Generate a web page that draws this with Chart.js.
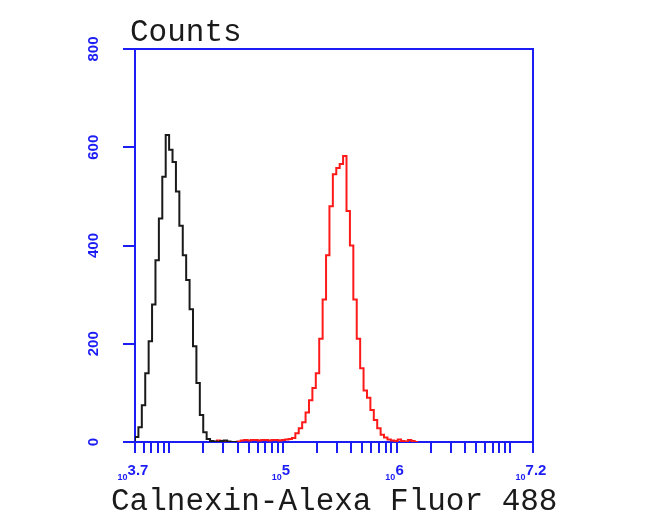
<!DOCTYPE html>
<html>
<head>
<meta charset="utf-8">
<script src="https://cdn.jsdelivr.net/npm/chart.js@4.4.1/dist/chart.umd.min.js"></script>
<style>
  body { margin: 0; background: #fff; }
  canvas { display: block; }
</style>
</head>
<body>
<canvas id="histChart" width="650" height="532"></canvas>
<script>
// histogram bins: log10 of the left edge of bin i = binStartExp + i * binWidthExp
const binStartExp = 3.7;
const binWidthExp = 0.03;

// black (control) counts, starting at bin 0
const controlStartBin = 0;
const controlCounts = [2, 10, 30, 75, 140, 205, 280, 370, 455, 540, 625, 595, 570, 510, 440, 380, 330, 270, 195, 120, 55, 20, 6, 2, 1, 0, 2, 3, 1, 0, 0];

// red (Calnexin) counts, starting at bin 24
const calnexinStartBin = 24;
const calnexinCounts = [2, 3, 1, 0, 0, 0, 0, 1, 3, 4, 3, 4, 4, 3, 4, 4, 3, 4, 4, 3, 4, 5, 6,
  8, 18, 28, 40, 60, 85, 110, 140, 210, 290, 380, 480, 545, 558, 566, 582, 470, 400, 290, 210,
  150, 105, 90, 65, 45, 28, 15, 9, 5, 3, 2, 5, 2, 1, 4, 2, 0];

const yTicks = [0, 200, 400, 600, 800];
const xMinExp = 3.7;
const xMaxExp = 7.2;
// labelled x ticks, as exponents of 10
const xLabelExps = ['3.7', '5', '6', '7.2'];

const axisBlue = '#1c1cf5';

function toPoints(startBin, counts) {
    return counts.map((c, i) => ({ x: Math.pow(10, binStartExp + (startBin + i) * binWidthExp), y: c }));
}

// minor ticks: 1..9 x 10^n inside the range, plus both ends
const xTickValues = [Math.pow(10, xMinExp)];
for (let e = 3; e <= 7; e++) {
    for (let k = 1; k <= 9; k++) {
        const v = k * Math.pow(10, e);
        if (v > Math.pow(10, xMinExp) && v < Math.pow(10, xMaxExp)) xTickValues.push(v);
    }
}
xTickValues.push(Math.pow(10, xMaxExp));

const decorations = {
    id: 'decorations',
    afterDraw(chart) {
        const { ctx, chartArea: a, scales: { x, y } } = chart;
        ctx.save();
        // top and right sides of the box
        ctx.strokeStyle = axisBlue;
        ctx.lineWidth = 2;
        ctx.beginPath();
        ctx.moveTo(a.left - 12, a.top);
        ctx.lineTo(a.right, a.top);
        ctx.lineTo(a.right, a.bottom);
        ctx.stroke();

        // y tick labels, rotated
        ctx.fillStyle = axisBlue;
        ctx.font = 'bold 15px "Liberation Sans", Arial, sans-serif';
        ctx.textAlign = 'center';
        ctx.textBaseline = 'middle';
        yTicks.forEach(v => {
            ctx.save();
            ctx.translate(94, y.getPixelForValue(v));
            ctx.rotate(-Math.PI / 2);
            ctx.fillText(String(v), 0, 0);
            ctx.restore();
        });

        // x tick labels: small "10" with a larger exponent
        xLabelExps.forEach(exp => {
            const px = x.getPixelForValue(Math.pow(10, parseFloat(exp)));
            ctx.font = 'bold 9px "Liberation Sans", Arial, sans-serif';
            const wBase = ctx.measureText('10').width;
            ctx.font = 'bold 15px "Liberation Sans", Arial, sans-serif';
            const wExp = ctx.measureText(exp).width;
            const left = px - 2 - (wBase + wExp) / 2;
            ctx.textAlign = 'left';
            ctx.textBaseline = 'alphabetic';
            ctx.font = 'bold 9px "Liberation Sans", Arial, sans-serif';
            ctx.fillText('10', left, 480);
            ctx.font = 'bold 15px "Liberation Sans", Arial, sans-serif';
            ctx.fillText(exp, left + wBase, 475);
        });

        // titles
        ctx.fillStyle = '#1a1a1a';
        ctx.font = '31px "Liberation Mono", monospace';
        ctx.textAlign = 'left';
        ctx.textBaseline = 'alphabetic';
        ctx.fillText('Counts', 130, 41);
        ctx.fillText('Calnexin-Alexa Fluor 488', 111, 510);
        ctx.restore();
    }
};

const ctx = document.getElementById('histChart').getContext('2d');
const histChart = new Chart(ctx, {
    type: 'line',
    data: {
        datasets: [
            {
                label: 'Control',
                data: toPoints(controlStartBin, controlCounts),
                borderColor: '#1a1a1a',
                borderWidth: 2,
                stepped: 'after',
                pointRadius: 0,
                fill: false
            },
            {
                label: 'Calnexin',
                data: toPoints(calnexinStartBin, calnexinCounts),
                borderColor: '#ff1a1a',
                borderWidth: 2,
                stepped: 'after',
                pointRadius: 0,
                fill: false
            }
        ]
    },
    options: {
        responsive: false,
        animation: false,
        layout: {
            padding: { left: 123, right: 117, top: 49, bottom: 79 }
        },
        scales: {
            x: {
                type: 'logarithmic',
                min: Math.pow(10, xMinExp),
                max: Math.pow(10, xMaxExp),
                afterBuildTicks: scale => {
                    scale.ticks = xTickValues.map(v => ({ value: v }));
                },
                ticks: { display: false },
                grid: { drawOnChartArea: false, tickLength: 11, color: axisBlue, lineWidth: 2 },
                border: { color: axisBlue, width: 2 }
            },
            y: {
                min: 0,
                max: 800,
                afterBuildTicks: scale => {
                    scale.ticks = yTicks.map(v => ({ value: v }));
                },
                ticks: { display: false },
                grid: { drawOnChartArea: false, tickLength: 12, color: axisBlue, lineWidth: 2 },
                border: { color: axisBlue, width: 2 }
            }
        },
        plugins: {
            legend: { display: false },
            tooltip: { enabled: false }
        }
    },
    plugins: [decorations]
});
</script>
</body>
</html>
